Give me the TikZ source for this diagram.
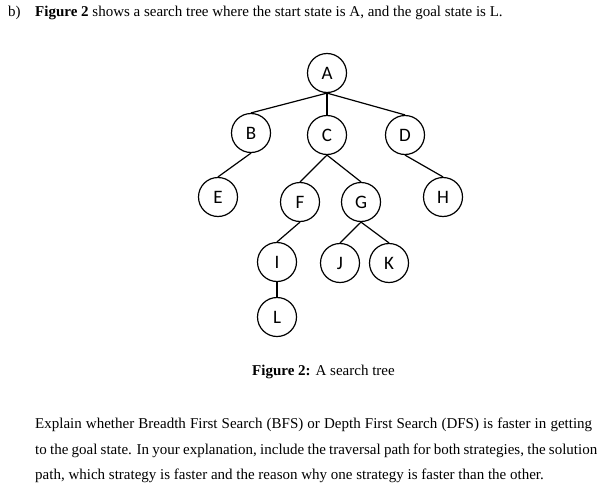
\documentclass[tikz,border=0pt]{standalone}
\usepackage{fontspec}
\setmainfont{Liberation Serif}
\newfontfamily\treefont{Carlito}
\begin{document}
\begin{tikzpicture}[x=1pt,y=-1pt,
	state/.style={draw,circle,minimum size=39pt,inner sep=0pt,line width=1.2pt,
		font=\treefont\fontsize{19}{19}\selectfont},
	link/.style={line width=1.2pt},
	txt/.style={anchor=base west,inner sep=0pt,font=\fontsize{15}{18}\selectfont}]
	\useasboundingbox (0,0) rectangle (612,487);
	% question line
	\node[txt] (qlabel) at (8,17) {b)};
	\node[txt] (qline) at (35,17) {\textbf{Figure 2} shows a search tree where the start state is A, and the goal state is L.};
	% search tree
	\node[state] (A) at (327,73) {A};
	\node[state] (B) at (251,133) {B};
	\node[state] (C) at (327,135) {C};
	\node[state] (D) at (405,135) {D};
	\node[state] (E) at (218,197) {E};
	\node[state] (F) at (300,202) {F};
	\node[state] (G) at (361,202) {G};
	\node[state] (H) at (443,197) {H};
	\node[state] (I) at (277,262) {I};
	\node[state] (J) at (340,263) {J};
	\node[state] (K) at (389,263) {K};
	\node[state] (L) at (277,317) {L};
	\foreach \p/\c in {A/B,A/C,A/D,B/E,C/F,C/G,D/H,F/I,G/J,G/K,I/L}{
		\draw[link] (\p.south) -- (\c.north);
	}
	% caption
	\node[txt] (caption) at (252,375) {\textbf{Figure 2:} A search tree};
	% task text
	\node[txt] (task1) at (35,428) {\makebox[557pt][s]{Explain whether Breadth First Search (BFS) or Depth First Search (DFS) is faster in getting}};
	\node[txt] (task2) at (35,454) {\makebox[562pt][s]{to the goal state. In your explanation, include the traversal path for both strategies, the solution}};
	\node[txt] (task3) at (35,479) {path, which strategy is faster and the reason why one strategy is faster than the other.};
\end{tikzpicture}
\end{document}
